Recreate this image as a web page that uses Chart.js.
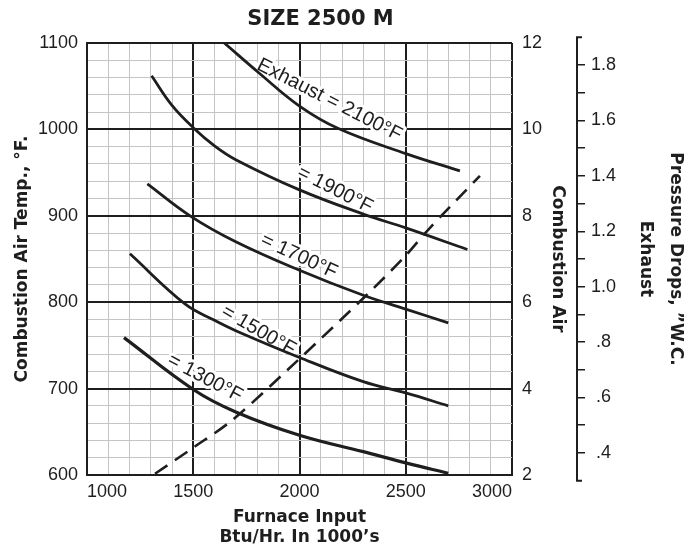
<!DOCTYPE html>
<html>
<head>
<meta charset="utf-8">
<script src="https://cdn.jsdelivr.net/npm/chart.js@4.4.1/dist/chart.umd.min.js"></script>
<style>
    html, body { margin: 0; padding: 0; background: #fff; }
    #wrap { width: 697px; height: 552px; }
</style>
</head>
<body>
<div id="wrap"><canvas id="chart"></canvas></div>
<script>
// Furnace input (Btu/Hr in 1000's) and combustion air temp (°F) for each exhaust temperature
const input2100 = [1646, 1811, 2000, 2183, 2500, 2755];
const temp2100  = [1100, 1065, 1027, 1001, 972, 952];
const input1900 = [1304, 1399, 1500, 1600, 1700, 2000, 2300, 2500, 2790];
const temp1900  = [1062, 1028, 1002, 981, 965, 930, 902, 886, 861];
const input1700 = [1284, 1485, 1700, 2000, 2300, 2500, 2700];
const temp1700  = [937, 900, 870, 837, 808, 792, 776];
const input1500 = [1202, 1461, 1600, 1700, 2000, 2300, 2500, 2700];
const temp1500  = [856, 798, 779, 767, 736, 708, 695, 680];
const input1300 = [1174, 1500, 1700, 2000, 2300, 2500, 2700];
const temp1300  = [759, 699, 673, 646, 627, 614, 602];

// Exhaust pressure drop ("W.C.) vs furnace input, dashed line
const dropInput = [1320, 1502, 1686, 2000, 2316, 2497, 2599, 2849];
const dropValue = [0.325, 0.42, 0.52, 0.74, 0.97, 1.11, 1.20, 1.40];

// Curve labels
const labelText  = ['Exhaust = 2100°F', '= 1900°F', '= 1700°F', '= 1500°F', '= 1300°F'];
const labelInput = [2141, 2167, 1998, 1807, 1555];
const labelTemp  = [1034, 930, 853, 767, 712];
const labelAngle = [27, 27, 25, 30, 28];

// Pressure axis ticks
const pressureTicks  = [0.4, 0.5, 0.6, 0.7, 0.8, 0.9, 1.0, 1.1, 1.2, 1.3, 1.4, 1.5, 1.6, 1.7, 1.8];
const pressureLabels = ['.4', '', '.6', '', '.8', '', '1.0', '', '1.2', '', '1.4', '', '1.6', '', '1.8'];
const pressureMin = 0.3204, pressureMax = 1.8794;
const pressureEnds = [0.3, 1.9];

const INK = '#1e1e1e';
const MINOR = '#c4c4c4';
const tickFont = { family: '"Liberation Sans", Arial, sans-serif', size: 18 };
const titleFont = { family: '"DejaVu Sans", sans-serif', size: 17, weight: 'bold', lineHeight: 1.2 };

function pts(xs, ys) {
    return xs.map((v, i) => ({ x: v, y: ys[i] }));
}

function curve(xs, ys, width) {
    return {
        data: pts(xs, ys),
        borderColor: INK,
        borderWidth: width || 2.8,
        pointRadius: 0,
        tension: 0.4,
        fill: false,
        yAxisID: 'y'
    };
}

// Curve labels sit under the lines, with a white halo that breaks the grid
const curveLabels = {
    id: 'curveLabels',
    beforeDatasetsDraw(chart) {
        const { ctx, scales: { x, y } } = chart;
        ctx.save();
        ctx.font = '20px "Liberation Sans", Arial, sans-serif';
        ctx.textAlign = 'center';
        ctx.textBaseline = 'middle';
        labelText.forEach((t, i) => {
            ctx.save();
            ctx.translate(x.getPixelForValue(labelInput[i]), y.getPixelForValue(labelTemp[i]));
            ctx.rotate(labelAngle[i] * Math.PI / 180);
            ctx.lineJoin = 'round';
            ctx.lineWidth = 6;
            ctx.strokeStyle = '#fff';
            ctx.strokeText(t, 0, 0);
            ctx.fillStyle = INK;
            ctx.fillText(t, 0, 0);
            ctx.restore();
        });
        ctx.restore();
    }
};

// Title and the bracketed pressure axis line
const extras = {
    id: 'extras',
    afterDraw(chart) {
        const { ctx, chartArea } = chart;
        ctx.save();
        ctx.font = 'bold 21px "DejaVu Sans", sans-serif';
        ctx.fillStyle = INK;
        ctx.textAlign = 'center';
        ctx.textBaseline = 'middle';
        ctx.fillText('SIZE 2500 M', (chartArea.left + chartArea.right) / 2 + 21, 20);

        const p = chart.scales.p;
        const x0 = p.left;
        const yTop = p.getPixelForValue(pressureEnds[1]);
        const yBot = p.getPixelForValue(pressureEnds[0]);
        ctx.strokeStyle = INK;
        ctx.lineWidth = 2;
        ctx.beginPath();
        ctx.moveTo(x0 + 5, yTop);
        ctx.lineTo(x0, yTop);
        ctx.lineTo(x0, yBot);
        ctx.lineTo(x0 + 5, yBot);
        ctx.stroke();
        ctx.restore();
    }
};

const isMajor = (v, step) => Math.abs(v / step - Math.round(v / step)) < 1e-6;

new Chart(document.getElementById('chart'), {
    type: 'line',
    data: {
        datasets: [
            curve(input2100, temp2100),
            curve(input1900, temp1900),
            curve(input1700, temp1700),
            curve(input1500, temp1500),
            curve(input1300, temp1300, 3.2),
            {
                data: pts(dropInput, dropValue),
                borderColor: INK,
                borderWidth: 2.6,
                borderDash: [15, 9],
                pointRadius: 0,
                tension: 0.3,
                fill: false,
                yAxisID: 'p'
            }
        ]
    },
    options: {
        responsive: true,
        maintainAspectRatio: false,
        animation: false,
        layout: { padding: { top: 43, left: 0, right: 0, bottom: 0 } },
        plugins: {
            legend: { display: false },
            tooltip: { enabled: false }
        },
        scales: {
            x: {
                type: 'linear',
                min: 1000,
                max: 3000,
                ticks: {
                    stepSize: 100,
                    autoSkip: false,
                    align: 'inner',
                    maxRotation: 0,
                    padding: 6,
                    color: INK,
                    font: tickFont,
                    callback: v => isMajor(v, 500) ? String(v) : ''
                },
                grid: {
                    drawTicks: false,
                    color: c => isMajor(c.tick.value, 500) ? INK : MINOR,
                    lineWidth: c => isMajor(c.tick.value, 500) ? 2 : 1
                },
                border: { color: INK, width: 2 },
                title: {
                    display: true,
                    text: ['Furnace Input', 'Btu/Hr. In 1000\u2019s'],
                    color: INK,
                    font: { ...titleFont, lineHeight: 1.176 },
                    padding: { top: 0, bottom: 4 }
                },
                afterFit: s => { s.height = 77; }
            },
            y: {
                position: 'left',
                min: 600,
                max: 1100,
                ticks: {
                    stepSize: 20,
                    autoSkip: false,
                    padding: 9,
                    color: INK,
                    font: tickFont,
                    callback: v => isMajor(v, 100) ? String(v) : ''
                },
                grid: {
                    drawTicks: false,
                    color: c => isMajor(c.tick.value, 100) ? INK : MINOR,
                    lineWidth: c => isMajor(c.tick.value, 100) ? 2 : 1
                },
                border: { color: INK, width: 2 },
                title: {
                    display: true,
                    text: 'Combustion Air Temp., °F.',
                    color: INK,
                    font: titleFont,
                    padding: { top: 12, bottom: 0 }
                },
                afterFit: s => { s.width = 87; }
            },
            air: {
                position: 'right',
                weight: 0,
                min: 2,
                max: 12,
                ticks: { stepSize: 2, padding: 10, color: INK, font: tickFont },
                grid: { drawOnChartArea: false, drawTicks: false },
                border: { display: false },
                title: {
                    display: true,
                    text: 'Combustion Air',
                    color: INK,
                    font: titleFont,
                    padding: { top: 9, bottom: 0 }
                },
                afterFit: s => { s.width = 65; }
            },
            p: {
                position: 'right',
                weight: 1,
                min: pressureMin,
                max: pressureMax,
                afterBuildTicks: s => { s.ticks = pressureTicks.map(v => ({ value: v })); },
                ticks: {
                    autoSkip: false,
                    padding: 6,
                    crossAlign: 'center',
                    color: INK,
                    font: tickFont,
                    callback: (v, i) => pressureLabels[i]
                },
                grid: {
                    drawOnChartArea: false,
                    drawTicks: true,
                    tickLength: 8,
                    color: INK,
                    lineWidth: 1.5
                },
                border: { display: false },
                title: {
                    display: true,
                    text: ['Pressure Drops, \u201DW.C.', 'Exhaust'],
                    color: INK,
                    font: { ...titleFont, lineHeight: 1.76 },
                    padding: { top: 7, bottom: 0 }
                },
                afterFit: s => { s.width = 120; }
            }
        }
    },
    plugins: [curveLabels, extras]
});
</script>
</body>
</html>
